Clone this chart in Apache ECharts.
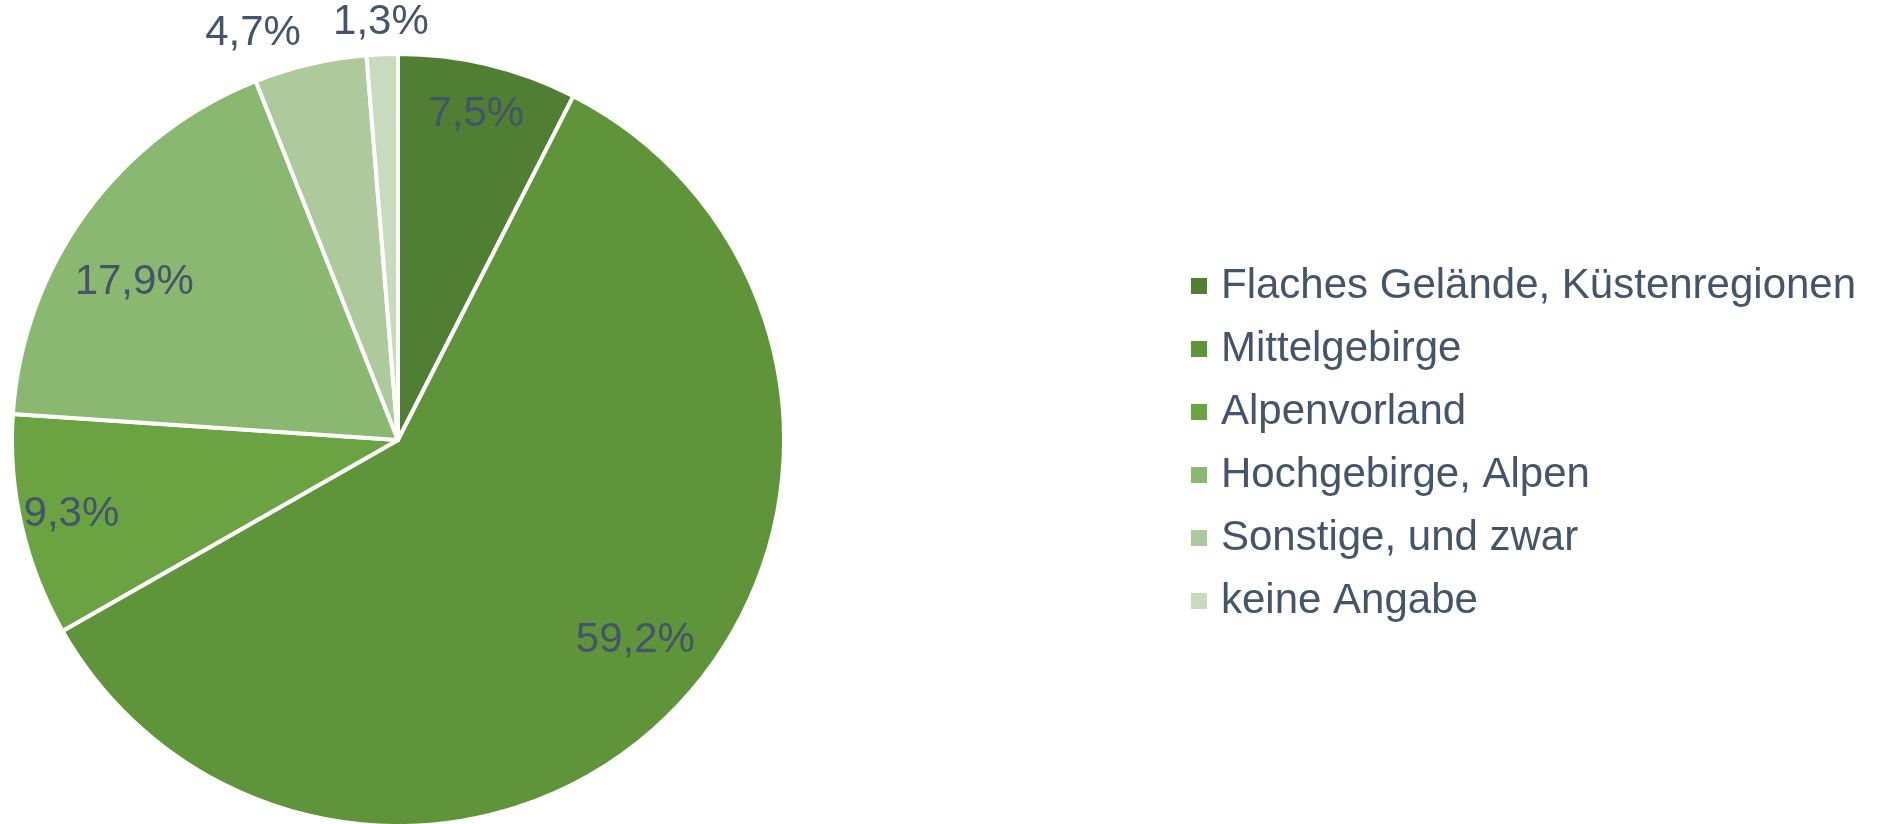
<!DOCTYPE html>
<html lang="de">
<head>
    <meta charset="UTF-8">
    <title>Gelände</title>
    <script src="https://cdn.jsdelivr.net/npm/echarts@6/dist/echarts.min.js"></script>
    <style>
        html, body { margin: 0; padding: 0; background: #fff; }
        #chart { width: 1888px; height: 824px; }
    </style>
</head>
<body>
<div id="chart"></div>
<script>
    // Daten
    var categories = ['Flaches Gelände, Küstenregionen', 'Mittelgebirge', 'Alpenvorland',
        'Hochgebirge, Alpen', 'Sonstige, und zwar', 'keine Angabe'];
    var shares = [7.5, 59.2, 9.3, 17.9, 4.7, 1.3];
    var colors = ['#507E32', '#5F943A', '#6BA342', '#8BB871', '#AECA9D', '#C9DBBE'];

    var textColor = '#44546A';
    var fontFamily = '"Liberation Sans", Arial, sans-serif';
    var center = [398, 440];
    var R = 386;
    // kleine Verschiebung der Beschriftung (wie "beste Anpassung" in Excel)
    var labelNudge = { 1: [11, -16], 3: [-11, 27] };

    function fmt(p) {
        return p.value.toFixed(1).replace('.', ',') + '%';
    }

    var labelStyle = {
        color: textColor,
        fontSize: 42,
        fontFamily: fontFamily,
        formatter: fmt
    };

    // unsichtbare Ringe, nur fuer die Position der Beschriftung
    function labelRing(radius, shown) {
        return {
            type: 'pie',
            center: center,
            radius: radius,
            silent: true,
            avoidLabelOverlap: false,
            itemStyle: { color: 'rgba(0,0,0,0)', borderWidth: 0 },
            label: Object.assign({ position: 'inside' }, labelStyle),
            labelLine: { show: false },
            emphasis: { disabled: true },
            data: categories.map(function (n, i) {
                return {
                    name: n,
                    value: shares[i],
                    label: { show: shown.indexOf(i) >= 0, offset: labelNudge[i] || [0, 0] }
                };
            })
        };
    }

    var myChart = echarts.init(document.getElementById('chart'));
    var option = {
        color: colors,
        animation: false,
        legend: {
            orient: 'vertical',
            left: 1186,
            top: 258,
            icon: 'rect',
            itemWidth: 16,
            itemHeight: 16,
            itemGap: 17,
            itemStyle: { borderWidth: 0 },
            selectedMode: false,
            data: categories,
            textStyle: {
                color: textColor,
                fontSize: 42,
                lineHeight: 46,
                fontFamily: fontFamily,
                padding: [0, 0, 0, 9]
            }
        },
        series: [
            {
                type: 'pie',
                center: center,
                radius: R,
                startAngle: 90,
                clockwise: true,
                avoidLabelOverlap: false,
                itemStyle: { borderColor: '#fff', borderWidth: 4 },
                emphasis: { disabled: true },
                label: Object.assign({ position: 'outside', distanceToLabelLine: 2 }, labelStyle),
                labelLine: { show: false, length: 32, length2: 0 },
                data: categories.map(function (n, i) {
                    return { name: n, value: shares[i], label: { show: i === 4 } };
                })
            },
            labelRing([290, 374], [0, 2]),
            labelRing([240, 380], [1, 3]),
            labelRing([395, 435], [5])
        ]
    };
    myChart.setOption(option);
</script>
</body>
</html>
